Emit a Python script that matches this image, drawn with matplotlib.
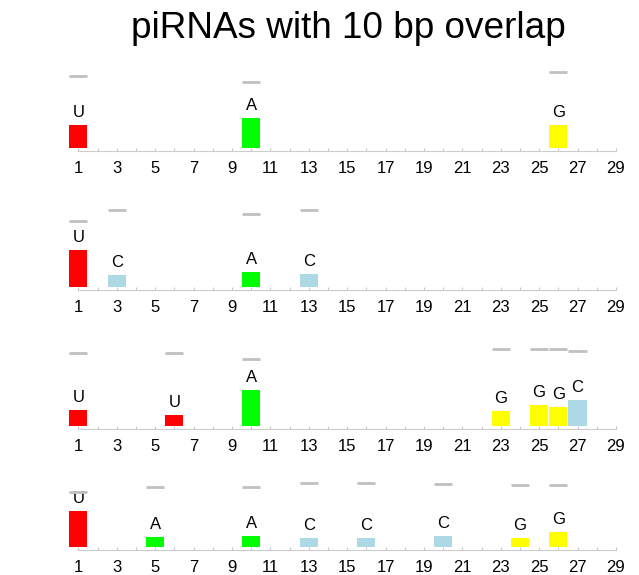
import matplotlib
matplotlib.use("Agg")
import matplotlib.pyplot as plt

plt.rcParams['font.family'] = ['Liberation Sans', 'DejaVu Sans']

# one row per panel: positions, bases, observed heights, upper reference level
pos_1 = [1, 10, 26]
base_1 = ['U', 'A', 'G']
val_1 = [22.7, 29.7, 22.7]
ref_1 = [72, 66, 76]

pos_2 = [1, 3, 10, 13]
base_2 = ['U', 'C', 'A', 'C']
val_2 = [36.7, 11.7, 15.0, 12.7]
ref_2 = [66, 76.7, 72.4, 76.7]

pos_3 = [1, 6, 10, 23, 25, 26, 27]
base_3 = ['U', 'U', 'A', 'G', 'G', 'G', 'C']
val_3 = [15.7, 10.7, 35.7, 14.7, 20.7, 18.7, 25.7]
ref_3 = [73, 73, 67, 77, 77, 77, 74.4]

pos_4 = [1, 5, 10, 13, 16, 20, 24, 26]
base_4 = ['U', 'A', 'A', 'C', 'C', 'C', 'G', 'G']
val_4 = [35.7, 9.7, 10.7, 8.7, 8.7, 10.7, 8.7, 14.7]
ref_4 = [55, 60, 60, 63.4, 63.4, 63, 61.4, 61.4]

panels = [(pos_1, base_1, val_1, ref_1),
          (pos_2, base_2, val_2, ref_2),
          (pos_3, base_3, val_3, ref_3),
          (pos_4, base_4, val_4, ref_4)]

base_colors = {'U': '#ff0000', 'A': '#00ff00', 'G': '#ffff00', 'C': '#add8e6'}

W, H = 639, 575
fig = plt.figure(figsize=(W / 100, H / 100), dpi=100)

# pixel rows of the bar bottoms
baselines = [147.7, 286.7, 425.7, 546.7]
panel_h = 85
x0, x1 = 68.7, 625.5
bw = 0.95

for (pos, bases, vals, refs), yb in zip(panels, baselines):
    ax = fig.add_axes([x0 / W, (H - yb) / H, (x1 - x0) / W, panel_h / H])
    ax.set_xlim(0.5, 29.5)
    ax.set_ylim(0, panel_h)
    cols = [base_colors[b] for b in bases]
    ax.bar(pos, vals, width=bw, color=cols, zorder=2)
    ax.hlines(refs, [p - bw / 2 for p in pos], [p + bw / 2 for p in pos],
              color='#c0c0c0', lw=2, zorder=4)
    for p, b, v in zip(pos, bases, vals):
        ax.annotate(b, (p, v), xytext=(0, 5.8), textcoords='offset points',
                    ha='center', va='baseline', fontsize=12, zorder=3)

    for s in ['left', 'top', 'right']:
        ax.spines[s].set_visible(False)
    ax.spines['bottom'].set_color('#cccccc')
    ax.spines['bottom'].set_bounds(1, 29)
    ax.spines['bottom'].set_position(('outward', 2.2))
    ax.set_yticks([])
    ticks = list(range(1, 30))
    ax.set_xticks(ticks)
    ax.set_xticklabels([str(t) if t % 2 else '' for t in ticks])
    ax.tick_params(axis='x', direction='in', length=2, color='#c8c8c8',
                   labelsize=12, pad=7.5)
    ax.patch.set_visible(False)

fig.text(348.5 / W, 1 - 38 / H, 'piRNAs with 10 bp overlap',
         ha='center', va='baseline', fontsize=26.6)

fig.savefig('out.png', dpi=100)
